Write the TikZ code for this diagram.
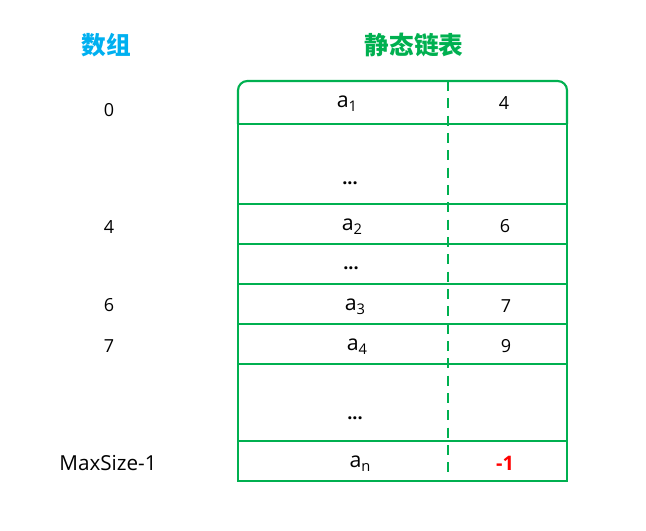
\documentclass[tikz,border=0pt]{standalone}
\usepackage{fontspec}
\setmainfont{Open Sans}
\newfontfamily\cjk{Noto Sans CJK SC}
\definecolor{tgreen}{HTML}{00B050}
\definecolor{tblue}{HTML}{00B0F0}
\definecolor{tred}{HTML}{FF0000}
\newcommand{\elt}[2]{{\fontsize{16pt}{19pt}\selectfont #1\raisebox{-0.35ex}{\fontsize{11pt}{13pt}\selectfont #2}}}
\begin{document}
\begin{tikzpicture}[x=0.75pt,y=-0.75pt,
  lbl/.style={font=\fontsize{13.5pt}{16pt}\selectfont, inner sep=0pt, anchor=center},
  dots/.style={font=\bfseries\fontsize{13.5pt}{16pt}\selectfont, inner sep=0pt, anchor=center},
  head/.style={font=\cjk\bfseries\fontsize{18.5pt}{22pt}\selectfont, inner sep=0pt},
  grid/.style={draw=tgreen, line width=2.2pt},
  thin/.style={draw=tgreen, line width=1.6pt},
  sep/.style={draw=tgreen, line width=2pt, dash pattern=on 7.5pt off 5.5pt}]
\useasboundingbox (0,0) rectangle (646,531);
% headers
\node[head, text=tblue] (h1) at (106,45) {数组};
\node[head, text=tgreen] (h2) at (414,45) {静态链表};
% top rounded row
\draw[thin, rounded corners=7pt] (238,124) -- (238,81) -- (567,81) -- (567,124);
% main body
\draw[grid] (238,124) rectangle (567,481);
\foreach \y in {204,244,284,324,364,441} \draw[grid] (238,\y) -- (567,\y);
\draw[sep] (448,81) -- (448,476);
% index labels
\node[lbl] (i0) at (109,110) {0};
\node[lbl] (i4) at (109,227) {4};
\node[lbl] (i6) at (109,305) {6};
\node[lbl] (i7) at (109,346) {7};
\node[lbl, font=\fontsize{15.5pt}{18pt}\selectfont] (im) at (108,463) {MaxSize-1};
% data
\node[lbl] (d1) at (347,104) {\elt{a}{1}};
\node[lbl] (n1) at (504,103) {4};
\node[dots] (e1) at (350,183) {...};
\node[lbl] (d2) at (352,227) {\elt{a}{2}};
\node[lbl] (n2) at (505,226) {6};
\node[dots] (e2) at (351,268) {...};
\node[lbl] (d3) at (355,307) {\elt{a}{3}};
\node[lbl] (n3) at (506,306) {7};
\node[lbl] (d4) at (357,347) {\elt{a}{4}};
\node[lbl] (n4) at (506,346) {9};
\node[dots] (e3) at (355,418) {...};
\node[lbl] (dn) at (360,464) {\elt{a}{n}};
\node[lbl, text=tred, font=\bfseries\fontsize{15pt}{17pt}\selectfont] (nn) at (505,463) {-1};
\end{tikzpicture}
\end{document}
